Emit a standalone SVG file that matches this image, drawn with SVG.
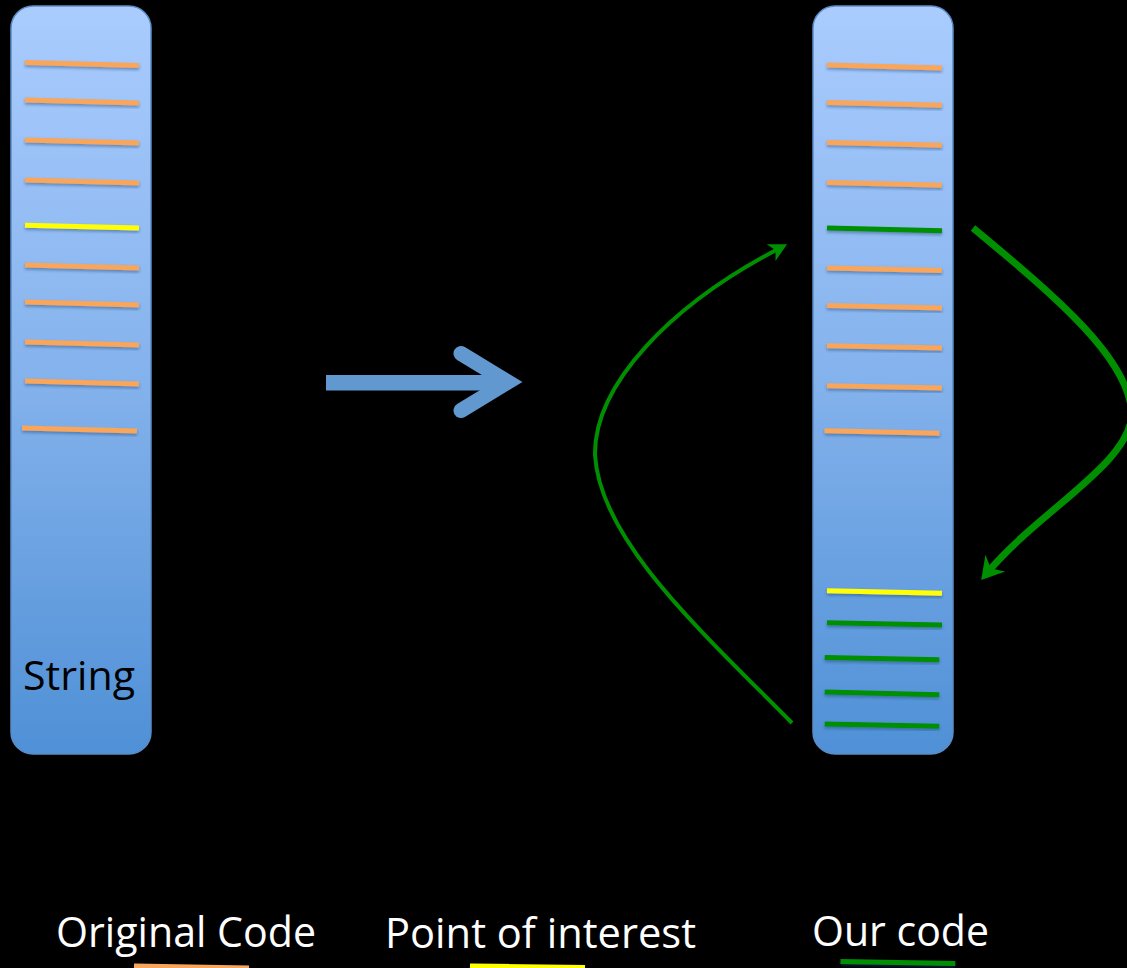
<svg xmlns="http://www.w3.org/2000/svg" width="1127" height="968" viewBox="0 0 1127 968">
  <style>
    .bar { fill: url(#barGrad); stroke: #5b8cc6; stroke-width: 1.5; }
    .code { stroke-width: 5; stroke-linecap: butt; filter: url(#sh); }
    .orange { stroke: #f9a55a; }
    .yellow { stroke: #ffff00; }
    .green { stroke: #008f00; }
    .lbl { font-family: "Open Sans", "Noto Sans", sans-serif; fill: #ffffff; font-size: 41.5px; }
    .conn { fill: none; stroke: #008f00; }
  </style>
  <defs>
    <linearGradient id="barGrad" x1="0" y1="0" x2="0" y2="1">
      <stop offset="0" stop-color="#aaccfe"/>
      <stop offset="0.5" stop-color="#84b2ec"/>
      <stop offset="1" stop-color="#4f90d6"/>
    </linearGradient>
    <filter id="sh" x="-10%" y="-200%" width="120%" height="500%">
      <feDropShadow dx="0" dy="2" stdDeviation="1.5" flood-color="#1f3f6f" flood-opacity="0.45"/>
    </filter>
    <marker id="headS" markerUnits="userSpaceOnUse" markerWidth="40" markerHeight="40" refX="0" refY="0" orient="auto" overflow="visible">
      <path d="M 8,0 L -10,-9.5 L -5,0 L -10,9.5 Z" fill="#008f00"/>
    </marker>
    <marker id="headL" markerUnits="userSpaceOnUse" markerWidth="40" markerHeight="40" refX="0" refY="0" orient="auto" overflow="visible">
      <path d="M 9,0 L -13,-13 L -6,0 L -13,13 Z" fill="#008f00"/>
    </marker>
  </defs>

  <rect x="0" y="0" width="1127" height="968" fill="#000000"/>

  <g id="string-original">
    <rect class="bar" x="11" y="6" width="140" height="748" rx="22" ry="22"/>
    <line class="code orange" x1="25" y1="62.5" x2="139" y2="65.5"/>
    <line class="code orange" x1="25" y1="100" x2="139" y2="103"/>
    <line class="code orange" x1="25" y1="140" x2="139" y2="143"/>
    <line class="code orange" x1="25" y1="180" x2="139" y2="183"/>
    <line class="code yellow" x1="25" y1="225.3" x2="139" y2="228"/>
    <line class="code orange" x1="25" y1="265" x2="139" y2="268"/>
    <line class="code orange" x1="25" y1="302" x2="139" y2="305"/>
    <line class="code orange" x1="25" y1="342" x2="139" y2="345"/>
    <line class="code orange" x1="25" y1="381" x2="139" y2="384"/>
    <line class="code orange" x1="22" y1="428" x2="137" y2="431"/>
    <text x="23" y="690" font-family="Open Sans, Noto Sans, sans-serif" font-size="40" fill="#000000" textLength="112" lengthAdjust="spacingAndGlyphs">String</text>
  </g>

  <g id="transform-arrow">
    <rect x="326" y="375" width="170" height="15.5" fill="#6198cf"/>
    <polyline points="461,353.5 508,382 461,410.5" fill="none" stroke="#6198cf" stroke-width="15" stroke-linecap="round" stroke-linejoin="miter"/>
  </g>

  <g id="string-modified">
    <rect class="bar" x="813" y="6" width="140" height="748" rx="22" ry="22"/>
    <line class="code orange" x1="827" y1="65" x2="942" y2="68"/>
    <line class="code orange" x1="827" y1="102.5" x2="942" y2="105.3"/>
    <line class="code orange" x1="827" y1="142.5" x2="942" y2="145.3"/>
    <line class="code orange" x1="827" y1="182.5" x2="942" y2="185.3"/>
    <line class="code green" x1="827" y1="228" x2="942" y2="230.7"/>
    <line class="code orange" x1="827" y1="268" x2="942" y2="270.5"/>
    <line class="code orange" x1="827" y1="305.5" x2="942" y2="308"/>
    <line class="code orange" x1="827" y1="345.7" x2="942" y2="348"/>
    <line class="code orange" x1="827" y1="385.7" x2="942" y2="388"/>
    <line class="code orange" x1="824.6" y1="430.7" x2="939.4" y2="433.3"/>
    <line class="code yellow" x1="827" y1="590.7" x2="942" y2="593.3"/>
    <line class="code green" x1="827" y1="622.7" x2="942" y2="625"/>
    <line class="code green" x1="824.7" y1="657.5" x2="939.3" y2="659.7"/>
    <line class="code green" x1="824.7" y1="692" x2="939.3" y2="694.7"/>
    <line class="code green" x1="824.7" y1="724" x2="939.3" y2="726.3"/>
  </g>

  <g id="connectors">
    <path class="conn" stroke-width="4" marker-end="url(#headS)" d="M 792 723 C 700 630, 600 540, 595 455 C 594 385, 670 305, 780 248"/>
    <path class="conn" stroke-width="7" marker-end="url(#headL)" d="M 973 228 C 1060 300, 1130 360, 1132 415 C 1128 465, 1040 510, 987 573"/>
  </g>

  <g id="legend-original">
    <text class="lbl" x="56" y="947" textLength="260" lengthAdjust="spacingAndGlyphs">Original Code</text>
    <line class="code orange" x1="134" y1="966" x2="249" y2="968"/>
  </g>
  <g id="legend-interest">
    <text class="lbl" x="385" y="948" textLength="311" lengthAdjust="spacingAndGlyphs">Point of interest</text>
    <line class="code yellow" x1="470" y1="966" x2="585" y2="967.5"/>
  </g>
  <g id="legend-ours">
    <text class="lbl" x="812" y="946" textLength="177" lengthAdjust="spacingAndGlyphs">Our code</text>
    <line class="code green" x1="840.5" y1="961.5" x2="955.3" y2="963.5"/>
  </g>
</svg>
